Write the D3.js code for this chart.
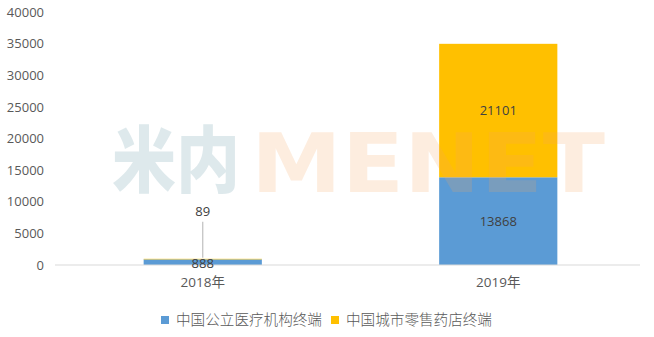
<!DOCTYPE html>
<html>
<head>
<meta charset="utf-8">
<script src="https://cdn.jsdelivr.net/npm/d3@7"></script>
<style>
  html, body { margin: 0; padding: 0; background: #fff; }
  svg { display: block; }
</style>
</head>
<body>
<svg id="chart" width="654" height="337"></svg>
<script>
// Chart data
const categories = ["2018年", "2019年"];
const seriesNames = ["中国公立医疗机构终端", "中国城市零售药店终端"];
const publicHospital = [888, 13868];
const retailPharmacy = [89, 21101];
const yTicks = [0, 5000, 10000, 15000, 20000, 25000, 30000, 35000, 40000];
const colors = ["#5B9BD5", "#FFC000"];

const svg = d3.select("#chart");
const W = 654, H = 337;
const plot = { left: 55, right: 640, top: 12, bottom: 265 };
const font = "'Open Sans', 'Noto Sans CJK SC', sans-serif";
const cjkFont = "'Open Sans', 'Noto Sans CJK SC', sans-serif";

const x = d3.scaleBand()
  .domain(categories)
  .range([plot.left, 646])
  .paddingInner(0.6)
  .paddingOuter(0.3);

const y = d3.scaleLinear()
  .domain([0, 40000])
  .range([plot.bottom, plot.top]);

// Stack the two series per category
const rows = categories.map((c, i) => ({ cat: c, s0: publicHospital[i], s1: retailPharmacy[i] }));
const stacked = d3.stack().keys(["s0", "s1"])(rows);

// Y axis labels (no line, no ticks)
const yAxis = svg.append("g")
  .attr("transform", `translate(${plot.left - 11},0)`)
  .call(d3.axisLeft(y).tickValues(yTicks).tickSize(0).tickPadding(0).tickFormat(d3.format("d")));
yAxis.select(".domain").remove();
yAxis.selectAll("text")
  .attr("fill", "#595959")
  .style("font-family", font)
  .style("font-size", "13px");

// Bars
stacked.forEach((layer, li) => {
  svg.append("g").selectAll("rect")
    .data(layer)
    .join("rect")
    .attr("x", d => x(d.data.cat))
    .attr("width", x.bandwidth())
    .attr("y", d => y(d[1]))
    .attr("height", d => y(d[0]) - y(d[1]))
    .attr("fill", colors[li]);
});

// Baseline
svg.append("line")
  .attr("x1", plot.left).attr("x2", plot.right)
  .attr("y1", y(0)).attr("y2", y(0))
  .attr("stroke", "#d9d9d9").attr("stroke-width", 1);

// X axis labels
const xAxis = svg.append("g")
  .attr("transform", `translate(0,${y(0)})`)
  .call(d3.axisBottom(x).tickSize(0).tickPadding(12));
xAxis.select(".domain").remove();
xAxis.selectAll("text")
  .attr("fill", "#595959")
  .style("font-family", cjkFont)
  .style("font-size", "13.5px");

// Watermark
const wm = svg.append("g").attr("pointer-events", "none");
wm.append("text")
  .attr("x", 112).attr("y", 186)
  .attr("textLength", 128).attr("lengthAdjust", "spacingAndGlyphs")
  .style("font-family", "'Noto Sans CJK SC', sans-serif")
  .style("font-weight", 900)
  .style("font-size", "72px")
  .attr("fill", "#3d7a8c").attr("fill-opacity", 0.17)
  .text("米内");
wm.append("text")
  .attr("x", 251).attr("y", 192)
  .attr("textLength", 354).attr("lengthAdjust", "spacingAndGlyphs")
  .style("font-family", "'DejaVu Sans', sans-serif")
  .style("font-weight", "bold")
  .style("font-size", "82px")
  .attr("fill", "#f4a460").attr("fill-opacity", 0.2)
  .text("MENET");

// Data labels
const labelG = svg.append("g")
  .style("font-family", font)
  .style("font-size", "13px")
  .attr("fill", "#404040")
  .attr("text-anchor", "middle");

stacked.forEach((layer, li) => {
  layer.forEach((d, i) => {
    const cx = x(d.data.cat) + x.bandwidth() / 2;
    const val = li === 0 ? publicHospital[i] : retailPharmacy[i];
    const mid = (y(d[0]) + y(d[1])) / 2;
    if (li === 1 && y(d[0]) - y(d[1]) < 20) {
      // Thin segment: label lifted above with a leader line
      const ly = y(d[1]) - 47;
      svg.insert("line", "g")
        .attr("x1", cx).attr("x2", cx)
        .attr("y1", ly + 10).attr("y2", y(d[1]) - 1)
        .attr("stroke", "#bfbfbf").attr("stroke-width", 1.2);
      labelG.append("text")
        .attr("x", cx)
        .attr("y", ly)
        .attr("dy", "0.35em")
        .text(val);
    } else {
      labelG.append("text")
        .attr("x", cx)
        .attr("y", li === 0 && i === 0 ? y(0) - 2 : mid)
        .attr("dy", "0.35em")
        .text(val);
    }
  });
});

// Legend
const legend = svg.append("g")
  .style("font-family", "'Noto Sans CJK SC', sans-serif")
  .style("font-weight", 300)
  .style("font-size", "14.6px");
const legendX = [161, 331];
seriesNames.forEach((n, i) => {
  const g = legend.append("g").attr("transform", `translate(${legendX[i]},320)`);
  g.append("rect").attr("x", 0).attr("y", -4).attr("width", 8).attr("height", 8).attr("fill", colors[i]);
  g.append("text").attr("x", 15).attr("y", 0).attr("dy", "0.35em").attr("fill", "#595959").text(n);
});
</script>
</body>
</html>
